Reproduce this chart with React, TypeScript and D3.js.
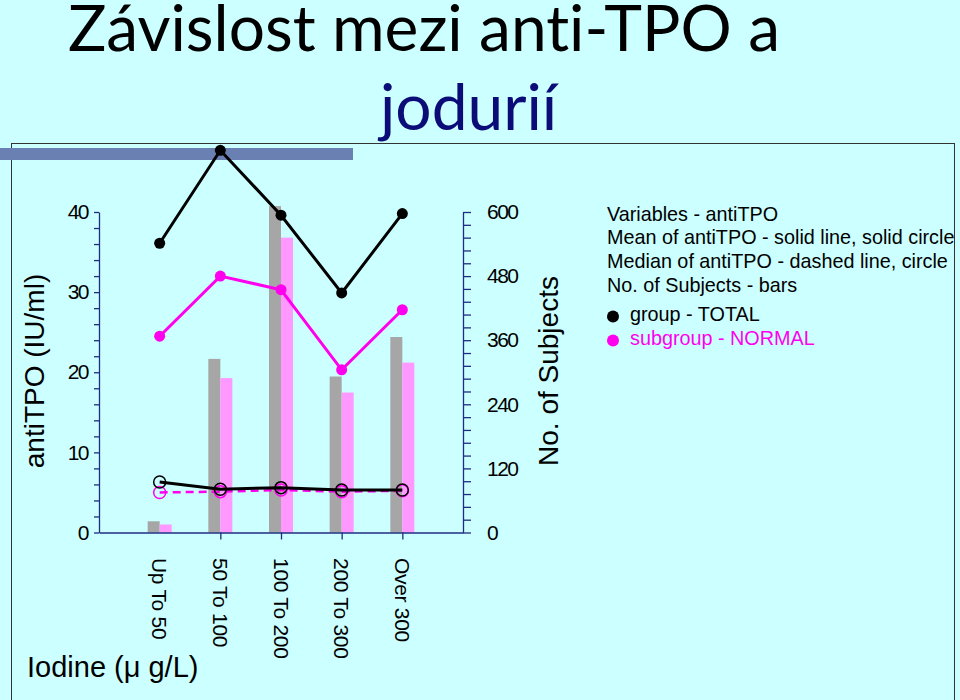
import React, { useEffect, useRef } from "react";
import * as d3 from "d3";

// iodine groups (x axis)
const categories = ["Up To 50", "50 To 100", "100 To 200", "200 To 300", "Over 300"];

// No. of Subjects (bars, right axis)
const subjectsTotal = [21, 325, 611, 292, 366];
const subjectsNormal = [15, 289, 552, 262, 318];

// antiTPO mean / median (left axis)
const meanTotal = [36.1, 47.7, 39.6, 29.9, 39.8];
const meanNormal = [24.5, 32.0, 30.3, 20.3, 27.8];
const medianTotal = [6.3, 5.4, 5.6, 5.3, 5.3];
const medianNormal = [5.0, 5.1, 5.3, 5.1, 5.2];

const legendLines = [
  "Variables - antiTPO",
  "Mean of antiTPO - solid line, solid circle",
  "Median of antiTPO - dashed line, circle",
  "No. of Subjects - bars",
];

const BG = "#ccffff";
const AXIS = "#202c80";
const MAGENTA = "#ff00ee";
const PINK = "#ff99ff";
const GRAY = "#a6a6a6";
const FONT = "'Liberation Sans', Arial, sans-serif";
const TITLE_FONT = "Lato, 'Open Sans', sans-serif";

export default function App() {
  const ref = useRef<SVGSVGElement>(null);

  useEffect(() => {
    const svg = d3.select(ref.current);
    svg.selectAll("*").remove();

    svg.append("rect").attr("width", 960).attr("height", 700).attr("fill", BG);

    // title
    svg.append("text")
      .attr("x", 68).attr("y", 51)
      .attr("font-family", TITLE_FONT)
      .attr("font-size", 64)
      .style("font-variant-ligatures", "none")
      .attr("fill", "#000")
      .text("Závislost mezi anti-TPO a");
    svg.append("text")
      .attr("x", 380).attr("y", 130)
      .attr("font-family", TITLE_FONT)
      .attr("font-size", 64)
      .style("font-variant-ligatures", "none")
      .attr("fill", "#0c0c78")
      .text("jodurií");

    // panel frame + decorative bar
    svg.append("rect")
      .attr("x", 11.5).attr("y", 143.5).attr("width", 943).attr("height", 600)
      .attr("fill", "none").attr("stroke", "#333").attr("stroke-width", 1);
    svg.append("rect")
      .attr("x", 0).attr("y", 148).attr("width", 353).attr("height", 12)
      .attr("fill", "#6a80b3");

    // scales
    const x = d3.scaleLinear().domain([0, categories.length + 1]).range([99, 463]);
    const y = d3.scaleLinear().domain([0, 40]).range([532.5, 212]);
    const yR = d3.scaleLinear().domain([0, 600]).range([532.5, 212]);
    const barW = 12;

    // bars
    svg.append("g").selectAll("rect")
      .data(subjectsTotal)
      .join("rect")
      .attr("x", (d, i) => x(i + 1) - barW)
      .attr("y", d => yR(d))
      .attr("width", barW)
      .attr("height", d => yR(0) - yR(d))
      .attr("fill", GRAY);
    svg.append("g").selectAll("rect")
      .data(subjectsNormal)
      .join("rect")
      .attr("x", (d, i) => x(i + 1))
      .attr("y", d => yR(d))
      .attr("width", barW)
      .attr("height", d => yR(0) - yR(d))
      .attr("fill", PINK);

    // axes
    const styleAxis = (g: any) => {
      g.selectAll("path, line").attr("stroke", AXIS).attr("stroke-width", 1.3);
      g.selectAll("text")
        .attr("font-family", FONT)
        .attr("font-size", 21)
        .attr("letter-spacing", -1.5)
        .attr("fill", "#000");
    };

    svg.append("g")
      .attr("transform", "translate(99,0)")
      .call(d3.axisLeft(y)
        .tickValues(d3.range(0, 41, 2))
        .tickFormat((d: any) => (d % 10 === 0 ? String(d) : ""))
        .tickSize(5).tickSizeOuter(0).tickPadding(6))
      .call(styleAxis);

    svg.append("g")
      .attr("transform", "translate(463,0)")
      .call(d3.axisRight(yR)
        .tickValues(d3.range(0, 601, 24))
        .tickFormat((d: any) => (d % 120 === 0 ? String(d) : ""))
        .tickSize(8).tickSizeOuter(0).tickPadding(16))
      .call(styleAxis);

    svg.append("g")
      .attr("transform", `translate(0,${y(0)})`)
      .call(d3.axisBottom(x)
        .tickValues([2, 3, 4, 5])
        .tickFormat(() => "")
        .tickSize(7).tickSizeOuter(0))
      .call(styleAxis);

    // category labels
    svg.append("g").selectAll("text")
      .data(categories)
      .join("text")
      .attr("transform", (d, i) => `translate(${x(i + 1)},558) rotate(90)`)
      .attr("dy", "0.35em")
      .attr("font-family", FONT)
      .attr("font-size", 21)
      .attr("letter-spacing", -0.3)
      .text(d => d);

    // axis titles
    svg.append("text")
      .attr("transform", "translate(44,371) rotate(-90)")
      .attr("text-anchor", "middle")
      .attr("font-family", FONT).attr("font-size", 28)
      .text("antiTPO (IU/ml)");
    svg.append("text")
      .attr("transform", "translate(558,371) rotate(-90)")
      .attr("text-anchor", "middle")
      .attr("font-family", FONT).attr("font-size", 28)
      .text("No. of Subjects");
    svg.append("text")
      .attr("x", 27).attr("y", 677)
      .attr("font-family", FONT).attr("font-size", 29)
      .text("Iodine (\u03bc g/L)");

    // lines
    const line = d3.line<number>().x((d, i) => x(i + 1)).y(d => y(d));

    const series = [
      { data: medianNormal, color: MAGENTA, dash: "8,5", filled: false, w: 2.5 },
      { data: medianTotal, color: "#000", dash: null, filled: false, w: 3 },
      { data: meanNormal, color: MAGENTA, dash: null, filled: true, w: 3 },
      { data: meanTotal, color: "#000", dash: null, filled: true, w: 3 },
    ];

    series.forEach(s => {
      const g = svg.append("g");
      g.append("path")
        .datum(s.data)
        .attr("d", line)
        .attr("fill", "none")
        .attr("stroke", s.color)
        .attr("stroke-width", s.w)
        .attr("stroke-dasharray", s.dash);
      g.selectAll("circle")
        .data(s.data)
        .join("circle")
        .attr("cx", (d, i) => x(i + 1))
        .attr("cy", d => y(d))
        .attr("r", s.filled ? 5.5 : 6)
        .attr("fill", s.filled ? s.color : "none")
        .attr("stroke", s.color)
        .attr("stroke-width", s.filled ? 0 : 1.5);
    });

    // legend
    svg.append("g").selectAll("text")
      .data(legendLines)
      .join("text")
      .attr("x", 607)
      .attr("y", (d, i) => 220.5 + i * 23.7)
      .attr("font-family", FONT)
      .attr("font-size", 19.8)
      .text(d => d);

    const groups = [
      { label: "group - TOTAL", color: "#000" },
      { label: "subgroup - NORMAL", color: MAGENTA },
    ];
    const lg = svg.append("g").selectAll("g")
      .data(groups)
      .join("g")
      .attr("transform", (d, i) => `translate(613,${316.5 + i * 24})`);
    lg.append("circle").attr("r", 6).attr("fill", d => d.color);
    lg.append("text")
      .attr("x", 17).attr("y", 4)
      .attr("font-family", FONT).attr("font-size", 19.8)
      .attr("fill", d => d.color)
      .text(d => d.label);
  }, []);

  return (
    <svg
      ref={ref}
      width={960}
      height={700}
      style={{ position: "absolute", left: 0, top: 0, display: "block" }}
    />
  );
}
